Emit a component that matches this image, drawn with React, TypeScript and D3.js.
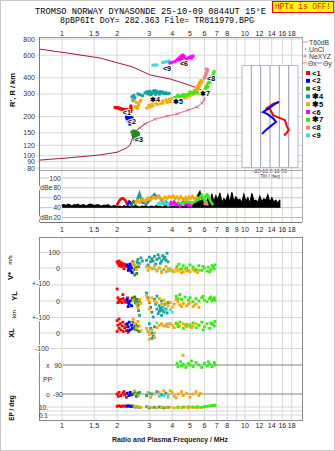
import React from 'react';
import * as d3 from 'd3';

type P = [number, number];

// ---------- axis / tick data ----------
const freqLabelsTop = [1, 1.5, 2, 3, 4, 5, 6, 7, 8, 10, 12, 14, 16, 18];
const freqLabelsMid = [1, 1.5, 2, 3, 4, 5, 6, 7, 8, 9, 10, 12, 14, 16, 18];
const freqGrid = [1, 1.5, 2, 3, 4, 5, 6, 7, 8, 9, 10, 12, 14, 16, 18];
const heightTicks = [80, 90, 100, 120, 150, 200, 300, 400, 600, 800];
const dbTicks = [100, 80, 60, 40, 20];
const tiltTicks = [-20, -10, 0, 10, 20];

const echoNames = ['<1', '<2', '<3', '✱4', '✱5', '<6', '✱7', '<8', '<9'];
const echoColors = ['#ff0000', '#0000ff', '#1f8a1f', '#14a0a0', '#ffa500', '#ff00ff', '#33ee11', '#f08080', '#40e0d0'];
const drawOrder = [0, 1, 2, 3, 8, 5, 7, 4, 6];

// ---------- profiles ----------
const profileLower: P[] = [[0.75, 92], [1.065, 95.7], [1.61, 101], [2.0, 106], [2.24, 114], [2.35, 120], [2.41, 132], [2.44, 144], [2.57, 158], [2.77, 172], [2.95, 182]];
const profileTop: P[] = [[0.75, 669], [1.065, 623], [1.61, 570], [2.44, 485], [3.03, 421], [3.89, 392], [4.58, 365], [5.47, 334], [6.05, 310]];
const neXYZ: P[] = [[2.67, 163], [2.84, 176], [3.22, 191], [3.75, 202], [4.25, 210], [4.88, 225], [5.47, 238], [5.82, 255], [5.97, 269], [6.04, 294]];

// ---------- echo traces (freq MHz, range km) ----------
const traceE1: P[] = [[1.95, 236], [1.98, 234], [2.0, 235], [2.03, 233], [2.06, 233], [2.09, 230], [2.12, 229], [2.15, 228], [2.18, 227], [2.21, 227], [2.24, 226], [2.27, 225], [2.3, 225], [2.38, 242], [2.38, 234], [2.38, 226], [2.38, 219]];
const traceE2: P[] = [[2.27, 203], [2.32, 206], [2.37, 200], [2.27, 193], [2.32, 195], [2.38, 190], [2.42, 195], [2.3, 185], [2.35, 182], [2.4, 184], [2.44, 179], [2.35, 175], [2.25, 198]];
const traceE3: P[] = [[2.41, 152], [2.47, 155], [2.53, 153], [2.6, 150], [2.44, 145], [2.5, 146], [2.56, 144], [2.62, 146], [2.47, 139], [2.53, 137], [2.58, 139], [2.5, 133], [2.56, 131]];
const traceE4: P[] = [[2.41, 285], [2.44, 268], [2.47, 292], [2.5, 280], [2.6, 300], [2.67, 296], [2.75, 291], [2.84, 305], [2.9, 311], [2.95, 300], [3.0, 314], [3.06, 306], [3.1, 300], [3.14, 316], [3.2, 309], [3.25, 298], [3.3, 314], [3.37, 307], [3.4, 299], [3.45, 313], [3.5, 304], [3.56, 310], [3.62, 302], [3.68, 306], [3.75, 301], [3.85, 303], [3.22, 318], [3.05, 296]];
const traceE5: P[] = [[2.48, 265], [2.55, 258], [2.62, 250], [2.6, 240], [2.52, 238], [2.58, 232], [2.67, 262], [2.7, 268],
  [2.91, 233], [3.03, 238], [3.14, 242], [3.3, 249], [3.43, 253], [3.56, 255], [3.75, 258], [3.89, 262], [4.04, 265], [4.25, 269], [4.41, 273], [4.64, 278], [4.82, 283], [5.0, 289], [5.2, 298], [5.33, 305], [5.47, 316], [5.53, 328], [5.6, 340], [5.68, 352], [5.75, 365], [5.82, 378],
  [2.98, 245], [3.1, 250], [3.25, 256], [3.4, 262], [3.55, 265], [3.7, 270], [3.85, 273], [4.0, 277], [4.2, 281], [4.4, 285], [4.6, 290], [4.8, 296], [5.0, 302], [5.15, 310], [5.3, 318], [5.42, 330], [5.5, 342], [5.58, 355], [5.66, 368], [5.74, 381]];
const traceE6: P[] = [[3.89, 521], [4.0, 528], [4.15, 537], [4.25, 553], [4.36, 570], [4.47, 590], [4.58, 601], [4.65, 585], [4.7, 570], [4.82, 560], [4.95, 575], [5.05, 583], [5.2, 590], [4.5, 565], [4.4, 550], [4.6, 575], [5.1, 570]];
const traceE7: P[] = [[4.14, 282], [4.25, 286], [4.41, 289], [4.55, 290], [4.7, 291], [4.88, 298], [5.05, 302], [5.2, 304], [5.4, 305], [5.6, 304], [5.8, 305], [5.95, 312], [6.05, 325], [6.12, 338], [6.2, 352], [6.3, 366], [6.4, 380], [6.5, 394], [6.6, 408], [6.68, 422], [6.74, 436], [6.78, 448], [4.3, 294], [4.6, 297], [5.0, 310], [5.3, 312], [6.0, 305], [6.25, 340], [6.45, 370], [6.62, 400]];
const traceE8: P[] = [[6.0, 398], [6.05, 410], [6.1, 422], [6.15, 435], [6.2, 448], [6.25, 460], [6.15, 468], [6.05, 402]];
const traceE9: P[] = [[3.14, 502], [3.22, 502], [3.3, 504], [3.55, 525], [3.62, 531], [3.7, 531], [3.78, 536], [3.85, 540]];
const labelPos: P[] = [[2.15, 217], [2.29, 182], [2.5, 134], [3.03, 274], [4.04, 264], [4.41, 521], [5.68, 305], [6.2, 392], [3.56, 473]];

// ---------- amplitudes (dB) ----------
const noiseDb = [45, 46, 44, 47, 45, 43, 46, 45, 47, 44, 45, 46, 43, 45, 47, 46, 44, 45, 46, 44, 43, 45, 44, 46, 43, 42, 44, 43,
  42, 43, 41, 44, 42, 43, 42, 41, 43, 44, 42, 41, 43, 42, 44, 41, 42, 43, 41, 44, 42, 43, 41, 42, 44, 43, 41, 42, 43, 44, 42, 41, 43, 42, 44, 43, 45, 42, 48, 55, 66, 73,
  52, 60, 50, 58, 49, 68, 51, 64, 55, 70, 50, 58, 53, 66, 49, 71, 52, 62, 55, 57, 50, 67, 53, 60, 48, 69, 54, 55, 50, 63, 52, 58, 55, 66, 50, 60, 51, 55, 48, 56];
const noiseStartMHz = 1;
const noiseEndMHz = 15.5;
const noiseFloorDb = 41;
const dbE1: P[] = [[2.0, 44], [2.02, 49], [2.05, 53], [2.08, 56], [2.11, 58], [2.14, 59], [2.17, 58], [2.2, 56], [2.23, 53], [2.26, 49], [2.28, 46]];
const dbE2: P[] = [[2.27, 44], [2.3, 48], [2.33, 52], [2.36, 50], [2.39, 47], [2.42, 44]];
const dbE3: P[] = [[2.38, 46], [2.42, 50], [2.46, 53], [2.5, 50], [2.53, 46]];
const dbE4: P[] = [[2.55, 52], [2.6, 60], [2.65, 68], [2.7, 58], [2.75, 50], [2.9, 48], [3.0, 55], [3.1, 62], [3.2, 67], [3.3, 60], [3.4, 63], [3.5, 55], [3.6, 48], [3.7, 52], [3.8, 45], [3.9, 50]];
const dbE5: P[] = [[2.5, 48], [2.58, 55], [2.65, 50], [2.75, 58], [2.85, 52], [2.95, 60], [3.05, 55], [3.15, 62], [3.25, 58], [3.35, 64], [3.45, 60], [3.55, 56], [3.65, 62], [3.75, 58], [3.85, 63], [3.95, 60], [4.05, 64], [4.15, 58], [4.25, 62], [4.35, 57], [4.45, 63], [4.55, 59], [4.65, 55], [4.75, 61], [4.85, 57], [4.95, 62], [5.05, 58], [5.15, 63], [5.25, 59], [5.35, 56], [5.45, 61], [5.55, 58], [5.65, 60], [5.75, 55]];
const dbE6: P[] = [[3.9, 44], [3.95, 50], [4.0, 47], [4.1, 52], [4.2, 45], [4.3, 49], [4.4, 43], [4.5, 48], [4.6, 52], [4.7, 46], [4.8, 50], [4.9, 44], [5.0, 47], [5.1, 42]];
const dbE7: P[] = [[4.3, 50], [4.5, 48], [4.8, 52], [5.2, 50], [5.5, 55], [5.7, 62], [5.8, 66], [5.9, 60], [6.0, 55], [6.1, 63], [6.2, 67], [6.3, 64], [6.4, 58], [6.5, 52], [6.6, 48], [6.7, 45]];
const dbE8: P[] = [[6.0, 45], [6.05, 50], [6.1, 53], [6.15, 52], [6.2, 48], [6.25, 44]];
const dbE9: P[] = [[3.3, 45], [3.4, 50], [3.5, 47], [3.6, 52], [3.7, 48], [3.8, 45], [3.9, 50], [4.0, 46]];

// ---------- V* (m/s) ----------
const vE1: P[] = [[2.0, 40], [2.02, 30], [2.05, 45], [2.08, 25], [2.1, 35], [2.13, 20], [2.16, 28], [2.2, 15], [2.22, 22], [2.25, 10], [2.05, 15], [2.12, 10], [2.3, 5], [2.18, -5]];
const vE2: P[] = [[2.27, 20], [2.3, 10], [2.33, -5], [2.36, 15], [2.38, -20], [2.4, 0], [2.42, -30], [2.3, -15], [2.35, 25]];
const vE3: P[] = [[2.44, 40], [2.47, 20], [2.5, -10], [2.53, 5], [2.56, -35], [2.6, 30], [2.5, -45], [2.62, 10]];
const vE4: P[] = [[2.57, 40], [2.6, 55], [2.65, 30], [2.7, 65], [2.75, 45], [2.9, 50], [3.0, 70], [3.05, 40], [3.1, 60], [3.2, 75], [3.3, 55], [3.35, 85], [3.4, 65], [3.5, 45], [3.55, 80], [3.6, 60], [3.7, 50], [3.75, 95], [3.8, 40], [3.45, 30], [3.25, 25], [2.95, 20], [3.15, 45], [3.65, 70]];
const vE5: P[] = [[2.45, 30], [2.5, 15], [2.55, -10], [2.62, 20], [2.9, 10], [2.95, -15], [3.0, 5], [3.1, -5], [3.2, 15], [3.3, -20], [3.4, 0], [3.6, -10], [3.7, 10], [3.8, -20], [3.9, -5], [4.0, -15], [4.2, -5], [4.3, -20], [4.4, -10], [4.6, -25], [4.7, -5], [4.9, -15], [5.0, -25], [5.2, -10], [5.3, -20], [5.5, -30], [5.6, -15], [4.5, -30], [3.5, -30], [4.1, -25], [4.8, -20], [5.4, -15]];
const vE6: P[] = [];
const vE7: P[] = [[4.25, 10], [4.35, 25], [4.5, -5], [4.6, 15], [4.8, 0], [5.0, 20], [5.2, 5], [5.4, -10], [5.6, 15], [5.8, -15], [6.0, 0], [6.2, -20], [6.3, 5], [6.5, -10], [6.6, 15], [6.8, -5], [6.85, 20], [5.9, 10], [6.4, -25], [6.7, 5]];
const vE8: P[] = [];
const vE9: P[] = [[3.2, -5], [3.3, -15], [3.4, 0], [3.5, -20], [3.6, -10], [3.7, -25], [3.8, -5], [3.9, -15], [4.0, -20]];

// ---------- YL (km) ----------
const ylE1: P[] = [[2.0, 75], [2.02, 20], [2.05, 5], [2.08, -5], [2.1, 10], [2.13, -10], [2.16, 15], [2.2, 0], [2.23, -8], [2.25, 5], [2.28, 20], [2.02, -10], [2.15, 40], [2.3, -12]];
const ylE2: P[] = [[2.27, 10], [2.3, -5], [2.33, -20], [2.36, 0], [2.4, -30], [2.42, 15], [2.3, -35]];
const ylE3: P[] = [[2.44, 20], [2.48, 5], [2.52, -10], [2.56, 10], [2.6, -25], [2.64, 0], [2.5, 25]];
const ylE4: P[] = [[2.57, -10], [2.6, -30], [2.62, -60], [2.65, -90], [2.9, 50], [2.95, 20], [3.0, -10], [3.05, -40], [3.1, -70], [3.15, -100], [3.2, 10], [3.25, -20], [3.3, -50], [3.35, -80], [3.4, -30], [3.45, -60], [3.5, -90], [3.55, -40], [3.6, -70], [3.65, -20], [3.7, -50], [3.75, -75], [3.3, 30], [3.5, 0], [3.8, -10], [3.4, -65], [3.55, -55], [3.45, -45]];
const ylE5: P[] = [[2.45, 5], [2.55, -20], [2.6, -40], [2.65, 10], [2.7, -15], [2.9, 30], [2.95, 10], [3.0, -5], [3.1, 20], [3.2, 0], [3.3, -10], [3.4, 15], [3.5, -20], [3.6, 5], [3.7, -15], [3.8, -30], [3.9, -10], [4.0, -40], [4.1, -20], [4.3, -5], [4.4, -25], [4.6, -15], [4.8, -30], [5.0, -10], [5.2, -35], [5.4, -20], [5.6, -40], [4.2, 10], [3.0, -50], [4.5, -35], [4.9, -20], [5.3, -25]];
const ylE6: P[] = [];
const ylE7: P[] = [[4.2, 30], [4.3, 15], [4.4, 40], [4.5, 10], [4.7, 25], [4.9, 5], [5.0, 20], [5.2, -5], [5.4, 15], [5.6, 0], [5.8, 20], [6.0, 5], [6.2, -5], [6.4, 15], [6.6, 0], [6.8, 20], [6.85, 5], [5.9, 30], [6.5, 25], [6.7, 10]];
const ylE8: P[] = [];
const ylE9: P[] = [[3.6, -45], [3.7, -60], [3.9, -55], [4.0, -70]];

// ---------- XL (km) ----------
const xlE1: P[] = [[2.0, 80], [2.02, 50], [2.05, 30], [2.08, 60], [2.1, 20], [2.13, 45], [2.16, 10], [2.2, 35], [2.23, 55], [2.25, 15], [2.28, 40], [2.3, 5], [2.05, 90], [2.15, 70], [2.0, 10]];
const xlE2: P[] = [[2.27, 60], [2.3, 40], [2.33, 70], [2.36, 20], [2.4, 50], [2.42, 30], [2.3, 15]];
const xlE3: P[] = [[2.44, 70], [2.48, 40], [2.52, 55], [2.56, 20], [2.6, 45], [2.64, 10], [2.5, 25]];
const xlE4: P[] = [[3.0, 60], [3.05, 30], [3.1, 0], [3.15, -20], [3.2, 40], [2.95, 10], [3.1, -35]];
const xlE5: P[] = [[2.45, 90], [2.5, 60], [2.55, 30], [2.6, 75], [2.65, 45], [2.7, 15], [2.9, 30], [2.95, 10], [3.0, -10], [3.1, 20], [3.2, 0], [3.3, 35], [3.4, 50], [3.5, 60], [3.6, 45], [3.7, 55], [3.8, 40], [3.9, 60], [4.0, 50], [4.1, 35], [4.3, 55], [4.4, 45], [4.6, 60], [4.8, 40], [5.0, 55], [5.2, 45], [5.4, 60], [5.6, 50], [3.0, -40], [3.2, -30], [4.2, 65], [4.7, 50], [5.1, 35]];
const xlE6: P[] = [];
const xlE7: P[] = [[4.2, 60], [4.3, 40], [4.4, 70], [4.6, 30], [4.8, 55], [5.0, 45], [5.2, 65], [5.4, 35], [5.6, 50], [5.8, 70], [6.0, 40], [6.2, 60], [6.4, 30], [6.6, 55], [6.8, 45], [6.85, 75], [5.9, 20], [6.5, 65], [6.7, 60]];
const xlE8: P[] = [];
const xlE9: P[] = [[3.3, 65], [3.5, 55], [3.7, 45], [3.8, 60]];

// ---------- polarization PP (deg) ----------
const ppE1: P[] = [[2.0, -90], [2.05, -80], [2.1, -100], [2.15, -85], [2.2, -95], [2.25, -110], [2.03, -105], [2.18, -75]];
const ppE2: P[] = [[2.27, -85], [2.32, -100], [2.36, -80], [2.4, -95]];
const ppE3: P[] = [[2.45, -90], [2.5, -75], [2.55, -105], [2.6, -85]];
const ppE4: P[] = [[2.6, -95], [2.65, -80], [2.9, -100], [3.0, -85], [3.1, -90], [3.3, -75], [3.5, -95], [3.7, -85]];
const ppE5: P[] = [[2.48, -70], [2.62, -100], [2.95, -80], [3.05, -110], [3.2, -90], [3.4, -80], [3.6, -70], [3.8, -95], [4.0, -80], [4.1, -105], [4.3, -90], [4.5, -75], [4.6, -100], [4.8, -85], [5.0, -110], [5.2, -90], [5.4, -75], [5.6, -100], [5.7, -85], [4.2, -115], [3.9, -70], [4.58, 150]];
const ppE6: P[] = [];
const ppE7: P[] = [[4.25, 100], [4.3, 80], [4.45, 110], [4.5, 85], [4.6, 95], [4.75, 75], [4.9, 100], [5.0, 90], [5.2, 80], [5.4, 105], [5.6, 90], [5.8, 75], [6.0, 100], [6.2, 85], [6.4, 95], [6.6, 80], [6.8, 105], [6.85, 90], [5.1, 115], [6.3, 110]];
const ppE8: P[] = [];
const ppE9: P[] = [[3.4, -105], [3.6, -100], [3.8, -110]];

// ---------- EP (deg) ----------
const epE1: P[] = [[2.0, 15], [2.05, 20], [2.1, 12], [2.15, 18], [2.2, 15], [2.25, 20]];
const epE2: P[] = [[2.28, 15], [2.33, 20], [2.38, 12], [2.42, 18]];
const epE3: P[] = [[2.45, 15], [2.5, 10]];
const epE4: P[] = [[2.55, 10], [2.65, 8], [2.9, 12], [3.0, 6], [3.2, 8], [3.4, 10], [3.6, 6], [3.8, 8]];
const epE5: P[] = [[2.5, 15], [2.6, 12], [2.7, 8], [2.95, 10], [3.1, 8], [3.3, 6], [3.5, 10], [3.7, 7], [3.9, 9], [4.1, 6], [4.3, 10], [4.5, 7], [4.7, 9], [4.9, 6], [5.1, 10], [5.3, 8], [5.5, 7], [5.7, 10]];
const epE6: P[] = [];
const epE7: P[] = [[4.3, 8], [4.6, 10], [4.9, 12], [5.2, 9], [5.5, 11], [5.8, 8], [6.0, 12], [6.2, 15], [6.4, 18], [6.6, 22], [6.8, 25], [6.85, 28]];
const epE8: P[] = [];
const epE9: P[] = [[3.5, 7], [3.7, 9]];

// ---------- tilt inset (deg, km) ----------
const tiltX: P[] = [[9.6, 260], [3.2, 251], [-1.1, 238], [-3.2, 233], [0, 229], [3.2, 205], [10.7, 195], [16, 188], [18, 169], [20, 158], [18, 150], [15, 143]];
const tiltY: P[] = [[9.6, 260], [5.4, 251], [-1.1, 233], [-7.5, 217], [-3.2, 210], [3.2, 195], [6.4, 182], [2.1, 172], [-4.3, 158], [-8.6, 147]];

const traces = [traceE1, traceE2, traceE3, traceE4, traceE5, traceE6, traceE7, traceE8, traceE9];
const dbs = [dbE1, dbE2, dbE3, dbE4, dbE5, dbE6, dbE7, dbE8, dbE9];
const vs = [vE1, vE2, vE3, vE4, vE5, vE6, vE7, vE8, vE9];
const yls = [ylE1, ylE2, ylE3, ylE4, ylE5, ylE6, ylE7, ylE8, ylE9];
const xls = [xlE1, xlE2, xlE3, xlE4, xlE5, xlE6, xlE7, xlE8, xlE9];
const pps = [ppE1, ppE2, ppE3, ppE4, ppE5, ppE6, ppE7, ppE8, ppE9];
const eps = [epE1, epE2, epE3, epE4, epE5, epE6, epE7, epE8, epE9];

const SANS = '"Liberation Sans", Arial, sans-serif';
const MONO = '"Liberation Mono", "DejaVu Sans Mono", monospace';

export default function App() {
  const W = 335, H = 451;
  const L = 40, R = 302;
  const x = d3.scaleLog().domain([1, 10]).range([62, 245]);
  const yH = d3.scaleLog().domain([100, 800]).range([155.5, 39]);
  const yDb = d3.scaleLinear().domain([20, 100]).range([217.5, 178]);
  const yV = d3.scaleLinear().domain([-100, 100]).range([283.5, 252.5]);
  const yYL = d3.scaleLinear().domain([-100, 100]).range([317, 285]);
  const yXL = d3.scaleLinear().domain([-100, 100]).range([348.5, 317.5]);
  const yPP = d3.scaleLinear().domain([-90, 90]).range([394, 365]);
  const yEP = d3.scaleLog().domain([0.1, 10]).range([415, 407]);
  const xT = d3.scaleLinear().domain([-30, 30]).range([242, 298]);

  const lineH = d3.line<P>().x(d => x(d[0])).y(d => yH(d[1]));
  const lineDb = d3.line<P>().x(d => x(d[0])).y(d => yDb(d[1]));
  const areaDb = d3.area<P>().x(d => x(d[0])).y0(yDb(noiseFloorDb)).y1(d => yDb(d[1]));
  const lineT = d3.line<P>().x(d => xT(d[0])).y(d => yH(d[1]));

  const nN = noiseDb.length;
  const noisePts: P[] = noiseDb.map((v, i) => [noiseStartMHz * Math.pow(noiseEndMHz / noiseStartMHz, i / (nN - 1)), v]);

  const sq = (cx: number, cy: number, s: number, c: string, k: string) => (
    <rect key={k} x={cx - s / 2} y={cy - s / 2} width={s} height={s} fill={c} />
  );

  const rowPts = (sets: P[][], ys: (v: number) => number, s: number, pref: string) =>
    drawOrder.map(i => sets[i].map((d, j) => sq(x(d[0]), ys(d[1]), s, echoColors[i], `${pref}${i}-${j}`)));

  const gridCol = '#d6d6d6';
  const halo = { paintOrder: 'stroke' as const, stroke: '#fff', strokeWidth: 2.5, strokeLinejoin: 'round' as const };

  return (
    <svg width={W} height={H} style={{ position: 'absolute', left: 0, top: 0, background: '#fff' }} fontFamily={SANS}>
      <defs>
        <clipPath id="cTop"><rect x={L} y={37} width={R - L} height={133} /></clipPath>
      </defs>
      <rect x={0.5} y={0.5} width={W - 1} height={H - 1} fill="#fff" stroke="#c8c8c8" />

      {/* titles */}
      <text x={35} y={12} fontFamily={MONO} fontSize={8.6} textLength={231} lengthAdjust="spacingAndGlyphs" dominantBaseline="central">TROMSO NORWAY   DYNASONDE 25-10-09 0844UT 15°E</text>
      <text x={60} y={20.5} fontFamily={MONO} fontSize={8.6} textLength={194} lengthAdjust="spacingAndGlyphs" dominantBaseline="central">8pBP6It DoY= 282.363 File= TR811979.BPG</text>
      <rect x={272.5} y={1.5} width={61} height={11} fill="#ffff00" stroke="#ff0000" />
      <text x={303} y={7.3} fill="#ff0000" fontFamily={MONO} fontSize={8.4} textAnchor="middle" dominantBaseline="central" textLength={56} lengthAdjust="spacingAndGlyphs">HPTx is OFF!</text>

      {/* ---------- top panel ---------- */}
      {freqGrid.map(f => <line key={'gt' + f} x1={x(f)} x2={x(f)} y1={37} y2={170} stroke={gridCol} />)}
      {heightTicks.map(h => <line key={'gh' + h} x1={L - 3} x2={R} y1={yH(h)} y2={yH(h)} stroke={gridCol} />)}
      {heightTicks.map(h => <text key={'th' + h} x={35} y={yH(h)} fontSize={7} textAnchor="end" dominantBaseline="central" fill="#333">{h}</text>)}
      {freqLabelsTop.map(f => <text key={'ft' + f} x={x(f)} y={33} fontSize={7} textAnchor="middle" dominantBaseline="central" fill="#222">{f}</text>)}
      <line x1={L} x2={R} y1={37.5} y2={37.5} stroke="#999" />
      <line x1={39.5} x2={39.5} y1={37} y2={222} stroke="#777" />
      <line x1={R + 0.5} x2={R + 0.5} y1={37} y2={222} stroke="#aaa" />
      <text transform="translate(12,90) rotate(-90)" fontSize={7.5} fontWeight="bold" textAnchor="middle" dominantBaseline="central">R', R / km</text>

      <g clipPath="url(#cTop)">
        <path d={lineH(profileLower) || ''} fill="none" stroke="#a3174a" strokeWidth={1} />
        <path d={lineH(profileTop) || ''} fill="none" stroke="#a3174a" strokeWidth={1} />
        <path d={lineH(neXYZ) || ''} fill="none" stroke="#e0608a" strokeWidth={1} />
        {neXYZ.map((d, i) => (
          <path key={'nx' + i} d={`M${x(d[0]) - 1.5},${yH(d[1]) - 1.5}l3,3M${x(d[0]) + 1.5},${yH(d[1]) - 1.5}l-3,3`} stroke="#e0608a" strokeWidth={0.8} />
        ))}
        {drawOrder.map(i => traces[i].map((d, j) => sq(x(d[0]), yH(d[1]), 3, echoColors[i], `tr${i}-${j}`)))}
        {labelPos.map((d, i) => (
          <text key={'lb' + i} x={x(d[0])} y={yH(d[1])} fontSize={7.2} fontWeight="bold" dominantBaseline="central" {...halo} strokeWidth={2}>{echoNames[i]}</text>
        ))}
      </g>

      {/* tilt inset */}
      <rect x={xT(-30)} y={65.5} width={xT(30) - xT(-30)} height={102} fill="#fff" stroke="#b8b8cc" />
      {tiltTicks.map(t => <line key={'tt' + t} x1={xT(t)} x2={xT(t)} y1={66} y2={167} stroke="#9a9ab4" />)}
      <path d={lineT(tiltX) || ''} fill="none" stroke="#ff0000" strokeWidth={2} />
      <path d={lineT(tiltY) || ''} fill="none" stroke="#0000ff" strokeWidth={2} />
      <text x={270} y={170.5} fontSize={5.2} textAnchor="middle" dominantBaseline="central" fill="#333">-20-10  0  10  20</text>
      <text x={270} y={175.5} fontSize={5.2} textAnchor="middle" dominantBaseline="central" fill="#333">Tilt / deg</text>

      {/* legend */}
      <line x1={303} x2={308} y1={42} y2={42} stroke="#aaa" />
      <text x={309} y={42} fontSize={6.8} dominantBaseline="central" fill="#333">T60dB</text>
      <rect x={305} y={48.5} width={1} height={1} fill="#333" />
      <text x={309} y={49} fontSize={6.8} dominantBaseline="central" fill="#333">UnCl</text>
      <path d="M303,56h4M305,54v4" stroke="#e0608a" strokeWidth={0.8} />
      <text x={309} y={56} fontSize={6.8} dominantBaseline="central" fill="#333">NeXYZ</text>
      <line x1={302} x2={307} y1={63} y2={63} stroke="#e08080" />
      <text x={308} y={63} fontSize={6.8} dominantBaseline="central" fill="#333">Θx</text>
      <line x1={317} x2={322} y1={63} y2={63} stroke="#8080e0" />
      <text x={323} y={63} fontSize={6.8} dominantBaseline="central" fill="#333">Θy</text>
      {echoNames.map((n, i) => (
        <g key={'lg' + i}>
          <rect x={306} y={73 + i * 7.8 - 2} width={4} height={4} fill={echoColors[i]} />
          <text x={312} y={73 + i * 7.8} fontSize={7.5} fontWeight="bold" dominantBaseline="central">{n}</text>
        </g>
      ))}

      {/* ---------- dB panel ---------- */}
      <line x1={L} x2={R} y1={170.5} y2={170.5} stroke="#aaa" />
      {freqGrid.map(f => <line key={'gd' + f} x1={x(f)} x2={x(f)} y1={171} y2={222} stroke={gridCol} />)}
      {dbTicks.map(v => <line key={'gdb' + v} x1={L} x2={R} y1={yDb(v)} y2={yDb(v)} stroke={v === 20 ? '#b4b4e6' : '#c4c4c4'} />)}
      <line x1={L} x2={R} y1={222.5} y2={222.5} stroke="#777" />
      <path d={areaDb(noisePts) || ''} fill="#000" stroke="#000" strokeWidth={1.2} />
      {drawOrder.map(i => <path key={'db' + i} d={lineDb(dbs[i]) || ''} fill="none" stroke={echoColors[i]} strokeWidth={2.6} />)}
      {dbTicks.map(v => <text key={'tdb' + v} x={61} y={yDb(v)} fontSize={7} textAnchor="end" dominantBaseline="central" fill="#333" {...halo}>{v}</text>)}
      <text x={40} y={yDb(80)} fontSize={7} dominantBaseline="central" fill="#333" {...halo}>dBe</text>
      <text x={40} y={yDb(20)} fontSize={7} dominantBaseline="central" fill="#333" {...halo}>dBn</text>
      {freqLabelsMid.map(f => <text key={'fm' + f} x={x(f)} y={229.5} fontSize={7} textAnchor="middle" dominantBaseline="central" fill="#222">{f}</text>)}

      {/* ---------- lower panel ---------- */}
      {freqGrid.map(f => <line key={'gl' + f} x1={x(f)} x2={x(f)} y1={238} y2={420} stroke={gridCol} />)}
      {[100, 0].map(v => <line key={'gv' + v} x1={L} x2={R} y1={yV(v)} y2={yV(v)} stroke={gridCol} />)}
      {[100, 0].map(v => <line key={'gy' + v} x1={L} x2={R} y1={yYL(v)} y2={yYL(v)} stroke={gridCol} />)}
      {[100, 0, -100].map(v => <line key={'gx' + v} x1={L} x2={R} y1={yXL(v)} y2={yXL(v)} stroke={gridCol} />)}
      {[10, 1, 0.1].map(v => <line key={'ge' + v} x1={L} x2={R} y1={yEP(v)} y2={yEP(v)} stroke={gridCol} />)}
      <line x1={63} x2={R} y1={yPP(90)} y2={yPP(90)} stroke="#808080" />
      <line x1={63} x2={R} y1={yPP(-90)} y2={yPP(-90)} stroke="#808080" />
      <rect x={39.5} y={237.5} width={R - 39} height={183} fill="none" stroke="#888" />

      {rowPts(vs, yV, 2.8, 'v')}
      {rowPts(yls, yYL, 2.8, 'y')}
      {rowPts(xls, yXL, 2.8, 'x')}
      {rowPts(pps, yPP, 2.8, 'p')}
      {rowPts(eps, yEP, 2.8, 'e')}

      <text x={60} y={yV(100)} fontSize={7} textAnchor="end" dominantBaseline="central" fill="#333">100</text>
      <text x={60} y={yV(0)} fontSize={7} textAnchor="end" dominantBaseline="central" fill="#333">0</text>
      <text x={50} y={yV(-100)} fontSize={7} textAnchor="end" dominantBaseline="central" fill="#333" {...halo}>+-100</text>
      <text x={60} y={yYL(0)} fontSize={7} textAnchor="end" dominantBaseline="central" fill="#333">0</text>
      <text x={50} y={yYL(-100)} fontSize={7} textAnchor="end" dominantBaseline="central" fill="#333" {...halo}>+-100</text>
      <text x={60} y={yXL(0)} fontSize={7} textAnchor="end" dominantBaseline="central" fill="#333">0</text>
      <text x={49} y={yXL(-100)} fontSize={7} textAnchor="end" dominantBaseline="central" fill="#333" {...halo}>-100</text>
      <text x={46} y={yPP(90)} fontSize={7} dominantBaseline="central" fill="#333">x</text>
      <text x={62} y={yPP(90)} fontSize={7} textAnchor="end" dominantBaseline="central" fill="#333">90</text>
      <text x={43} y={379.5} fontSize={7} dominantBaseline="central" fill="#333">PP</text>
      <text x={46} y={yPP(-90)} fontSize={7} dominantBaseline="central" fill="#333">o</text>
      <text x={63} y={yPP(-90)} fontSize={7} textAnchor="end" dominantBaseline="central" fill="#333">-90</text>
      <text x={48} y={yEP(10)} fontSize={6.5} textAnchor="end" dominantBaseline="central" fill="#333">10.</text>
      <text x={48} y={yEP(0.1)} fontSize={6.5} textAnchor="end" dominantBaseline="central" fill="#333">0.1</text>

      <text transform="translate(10,276) rotate(-90)" fontSize={7.5} fontWeight="bold" textAnchor="middle" dominantBaseline="central">V*</text>
      <text transform="translate(10,260) rotate(-90)" fontSize={6} textAnchor="middle" dominantBaseline="central">m/s</text>
      <text transform="translate(14,296) rotate(-90)" fontSize={7.5} fontWeight="bold" textAnchor="middle" dominantBaseline="central">YL</text>
      <text transform="translate(14,314) rotate(-90)" fontSize={6} textAnchor="middle" dominantBaseline="central">km</text>
      <text transform="translate(11,333) rotate(-90)" fontSize={7.5} fontWeight="bold" textAnchor="middle" dominantBaseline="central">XL</text>
      <text transform="translate(11,408) rotate(-90)" fontSize={6.5} fontWeight="bold" textAnchor="middle" dominantBaseline="central">EP / deg</text>

      {freqLabelsTop.map(f => <text key={'fb' + f} x={x(f)} y={425.5} fontSize={7} textAnchor="middle" dominantBaseline="central" fill="#222">{f}</text>)}
      <text x={170} y={439} fontSize={7.2} fontWeight="bold" textAnchor="middle" dominantBaseline="central" textLength={116} lengthAdjust="spacingAndGlyphs" fill="#222">Radio and Plasma Frequency / MHz</text>
    </svg>
  );
}
